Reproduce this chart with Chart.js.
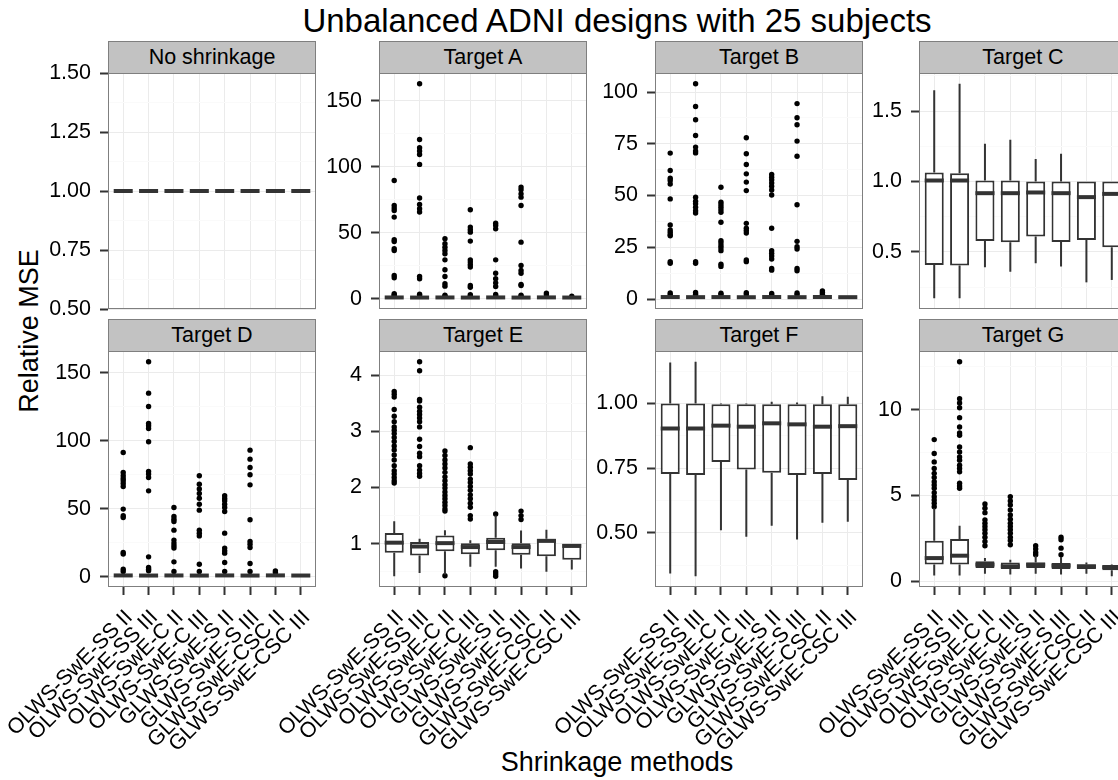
<!DOCTYPE html>
<html>
<head>
<meta charset="utf-8">
<script src="https://cdn.jsdelivr.net/npm/chart.js@4.4.1/dist/chart.umd.min.js"></script>
<style>
  html, body { margin: 0; padding: 0; background: #fff; }
  #fig { position: relative; width: 1118px; height: 780px; overflow: hidden;
         font-family: "Liberation Sans", Arial, sans-serif; color: #000; }
  #fig canvas { position: absolute; }
  .strip { position: absolute; box-sizing: border-box; height: 33px; border: 1px solid #7f7f7f;
           background: #c2c2c2; text-align: center; font-size: 21.5px; line-height: 31px; }
  .title { position: absolute; left: 117px; width: 1000px; top: 4px; text-align: center;
           font-size: 33px; line-height: 33px; }
  .xlab { position: absolute; left: 117px; width: 1000px; top: 749px; text-align: center;
          font-size: 27px; line-height: 27px; }
  .ylab { position: absolute; left: 29px; top: 331px; font-size: 27px; line-height: 27px;
          white-space: nowrap; transform: translate(-50%, -50%) rotate(-90deg); }
</style>
</head>
<body>
<div id="fig">
  <div class="title">Unbalanced ADNI designs with 25 subjects</div>
  <div class="ylab">Relative MSE</div>
  <div class="xlab">Shrinkage methods</div>
</div>
<script>
// -------------------
// Data
// -------------------
const methods = ['OLWS-SwE-SS II', 'OLWS-SwE-SS III', 'OLWS-SwE-C II', 'OLWS-SwE-C III',
                 'GLWS-SwE-S II', 'GLWS-SwE-S III', 'GLWS-SwE-CSC II', 'GLWS-SwE-CSC III'];
const panelNames = ['No shrinkage', 'Target A', 'Target B', 'Target C',
                    'Target D', 'Target E', 'Target F', 'Target G'];

// box stats per method: [lower whisker, Q1, median, Q3, upper whisker]
const boxNone = [[1,1,1,1,1],[1,1,1,1,1],[1,1,1,1,1],[1,1,1,1,1],[1,1,1,1,1],[1,1,1,1,1],[1,1,1,1,1],[1,1,1,1,1]];
const boxA = [[0.40,0.83,1.01,1.19,1.45],[0.45,0.80,0.95,1.04,1.12],[0.42,0.86,1.01,1.15,1.30],[0.55,0.81,0.94,1.02,1.10],
              [0.45,0.88,1.03,1.11,1.50],[0.55,0.80,0.94,1.02,1.25],[0.50,0.78,1.05,1.10,1.30],[0.52,0.72,0.96,1.00,1.02]];
const boxB = [[0.42,0.84,1.02,1.18,1.42],[0.46,0.79,0.96,1.05,1.10],[0.44,0.86,1.00,1.14,1.28],[0.56,0.80,0.93,1.01,1.08],
              [0.47,0.87,1.02,1.10,1.48],[0.56,0.81,0.95,1.01,1.22],[0.50,0.77,1.04,1.09,1.28],[0.53,0.71,0.95,1.00,1.01]];
const boxC = [[0.171,0.408,1.007,1.064,1.647],[0.171,0.403,1.007,1.059,1.694],[0.391,0.578,0.917,1.007,1.268],[0.360,0.569,0.917,1.007,1.296],
              [0.419,0.609,0.922,1.000,1.159],[0.396,0.571,0.917,1.000,1.197],[0.284,0.585,0.889,1.000,1.000],[0.301,0.533,0.912,1.000,1.000]];
const boxD = [[0.41,0.84,1.02,1.20,1.44],[0.45,0.80,0.95,1.04,1.11],[0.43,0.86,1.01,1.16,1.31],[0.56,0.81,0.94,1.02,1.09],
              [0.46,0.88,1.03,1.11,1.52],[0.55,0.80,0.94,1.02,1.24],[0.50,0.78,1.05,1.10,1.27],[0.53,0.72,0.96,1.00,1.02]];
const boxE = [[0.42,0.84,1.018,1.189,1.40],[0.48,0.79,0.95,1.03,1.09],[0.45,0.864,1.01,1.148,1.24],[0.59,0.81,0.94,1.01,1.06],
              [0.59,0.882,1.03,1.106,1.50],[0.557,0.805,0.94,1.01,1.236],[0.50,0.776,1.05,1.09,1.25],[0.54,0.716,0.96,1.00,1.00]];
const boxF = [[0.343,0.727,0.903,1.000,1.158],[0.332,0.723,0.903,1.000,1.161],[0.510,0.774,0.914,0.997,1.000],[0.485,0.745,0.910,0.997,1.000],
              [0.527,0.732,0.923,0.997,1.006],[0.474,0.723,0.919,0.997,1.003],[0.539,0.727,0.910,0.997,1.028],[0.543,0.704,0.912,0.997,1.026]];
const boxG = [[0.33,0.97,1.35,2.36,4.26],[0.33,0.97,1.49,2.46,3.23],[0.44,0.77,0.97,1.16,1.35],[0.39,0.72,0.87,1.10,1.26],
              [0.44,0.77,0.97,1.10,1.49],[0.39,0.72,0.91,1.06,1.41],[0.44,0.72,0.87,0.97,1.10],[0.29,0.64,0.83,0.91,0.97]];

// outlying values per method
const outNone = [[], [], [], [], [], [], [], []];
const outA = [
  [2.1, 2.9, 3.8, 15.9, 17.7, 36.6, 37.9, 43.4, 44.7, 61.9, 66.9, 68.7, 70.7, 89.6],
  [2.3, 3.4, 15.2, 16.9, 65.7, 68.2, 71.5, 76.3, 101.8, 109.3, 111.9, 114.4, 120.7, 162.9],
  [1.9, 2.7, 9.6, 11.4, 16.9, 22.0, 29.5, 34.1, 36.6, 39.1, 41.7, 45.5],
  [2.0, 3.1, 8.8, 10.1, 24.0, 25.8, 27.8, 29.5, 43.7, 50.5, 52.3, 54.3, 67.4],
  [2.2, 3.3, 9.3, 12.1, 15.2, 19.4, 29.5, 53.0, 55.6, 57.3],
  [2.0, 2.8, 10.1, 10.9, 19.4, 21.5, 25.3, 42.9, 70.7, 77.0, 79.5, 82.6, 84.6],
  [3.0, 4.3],
  [2.0]
];
const outB = [
  [2.2, 3.0, 17.3, 18.1, 30.6, 31.1, 32.3, 33.4, 35.8, 48.4, 55.6, 57.3, 58.4, 62.1, 70.5],
  [2.4, 3.2, 17.3, 18.1, 41.6, 42.7, 44.4, 46.0, 47.3, 49.2, 70.6, 71.5, 73.4, 79.0, 86.6, 93.0, 104.0],
  [2.1, 2.9, 15.8, 16.9, 23.4, 24.7, 25.8, 27.1, 28.2, 37.1, 41.9, 43.1, 44.4, 45.6, 46.8, 54.0],
  [2.3, 3.1, 18.1, 18.9, 31.9, 33.1, 34.2, 36.6, 52.4, 56.5, 60.5, 65.0, 70.2, 77.9],
  [2.0, 2.7, 14.0, 14.8, 19.4, 20.8, 22.1, 23.4, 34.2, 50.3, 52.7, 54.5, 56.1, 57.6, 58.9, 60.2],
  [2.2, 3.0, 13.7, 14.8, 24.2, 25.3, 27.9, 45.6, 69.0, 76.3, 84.2, 87.6, 94.4],
  [2.4, 3.2, 4.0],
  []
];
const outC = [[], [], [], [], [], [], [], []];
const outD = [
  [3.9, 5.6, 16.7, 17.9, 43.6, 44.9, 49.8, 66.4, 68.6, 70.6, 72.3, 74.3, 76.7, 91.4],
  [4.4, 5.6, 6.9, 14.7, 63.2, 73.0, 75.5, 77.5, 99.3, 109.0, 111.0, 112.7, 125.2, 135.0, 158.1],
  [3.9, 11.0, 21.1, 22.8, 24.8, 27.0, 34.3, 40.7, 42.4, 44.4, 51.0],
  [3.9, 9.3, 30.1, 32.1, 34.3, 49.0, 53.4, 57.8, 61.3, 64.5, 68.1, 74.3],
  [3.9, 10.5, 17.4, 19.1, 21.1, 32.1, 48.0, 51.0, 53.4, 55.9, 57.6, 59.6],
  [3.9, 9.8, 21.6, 24.0, 26.0, 41.9, 67.6, 75.0, 80.4, 86.5, 93.1],
  [3.2, 4.4],
  []
];
const outE = [
  [2.08, 2.12, 2.18, 2.24, 2.30, 2.39, 2.49, 2.58, 2.67, 2.74, 2.82, 2.89, 2.96, 3.02, 3.08, 3.17, 3.27, 3.39, 3.61, 3.66, 3.71],
  [2.20, 2.25, 2.31, 2.39, 2.55, 2.61, 2.73, 2.86, 3.08, 3.17, 3.24, 3.30, 3.36, 3.43, 3.54, 3.57, 4.08, 4.24],
  [0.43, 1.58, 1.62, 1.68, 1.74, 1.80, 1.86, 1.92, 1.99, 2.05, 2.12, 2.19, 2.27, 2.35, 2.42, 2.49, 2.57, 2.65],
  [1.44, 1.50, 1.65, 1.72, 1.80, 1.87, 1.95, 2.02, 2.09, 2.15, 2.24, 2.30, 2.36, 2.42, 2.71],
  [0.42, 0.46, 0.50, 1.53],
  [1.43, 1.50, 1.58],
  [],
  []
];
const outF = [[], [], [], [], [], [], [], []];
const outG = [
  [4.35, 4.55, 4.74, 4.93, 5.16, 5.42, 5.61, 5.80, 6.05, 6.29, 6.58, 6.96, 7.45, 8.26],
  [5.42, 5.55, 5.71, 6.38, 6.58, 6.77, 7.06, 7.25, 7.54, 7.83, 8.51, 8.65, 8.99, 9.54, 10.12, 10.39, 10.64, 12.8],
  [2.07, 2.32, 2.57, 2.80, 3.00, 3.19, 3.38, 3.58, 4.00, 4.26, 4.51],
  [2.13, 2.38, 2.57, 2.80, 3.00, 3.19, 3.38, 3.62, 3.87, 4.16, 4.45, 4.68, 4.93],
  [1.55, 1.68, 1.88, 2.07],
  [1.55, 1.93, 2.42, 2.57],
  [],
  []
];

// y axis breaks and their labels
const ticksNone = [0.5, 0.75, 1, 1.25, 1.5];  const tickLabelsNone = ['0.50', '0.75', '1.00', '1.25', '1.50'];
const ticksA = [0, 50, 100, 150];             const tickLabelsA = ['0', '50', '100', '150'];
const ticksB = [0, 25, 50, 75, 100];          const tickLabelsB = ['0', '25', '50', '75', '100'];
const ticksC = [0.5, 1.0, 1.5];               const tickLabelsC = ['0.5', '1.0', '1.5'];
const ticksD = [0, 50, 100, 150];             const tickLabelsD = ['0', '50', '100', '150'];
const ticksE = [1, 2, 3, 4];                  const tickLabelsE = ['1', '2', '3', '4'];
const ticksF = [0.5, 0.75, 1.0];              const tickLabelsF = ['0.50', '0.75', '1.00'];
const ticksG = [0, 5, 10];                    const tickLabelsG = ['0', '5', '10'];

const panels = [
  { box: boxNone, out: outNone, ticks: ticksNone, labels: tickLabelsNone },
  { box: boxA, out: outA, ticks: ticksA, labels: tickLabelsA },
  { box: boxB, out: outB, ticks: ticksB, labels: tickLabelsB },
  { box: boxC, out: outC, ticks: ticksC, labels: tickLabelsC },
  { box: boxD, out: outD, ticks: ticksD, labels: tickLabelsD },
  { box: boxE, out: outE, ticks: ticksE, labels: tickLabelsE },
  { box: boxF, out: outF, ticks: ticksF, labels: tickLabelsF },
  { box: boxG, out: outG, ticks: ticksG, labels: tickLabelsG }
];

// -------------------
// Layout
// -------------------
const colLeft = [108, 379, 655, 919];
const rowTop = [73, 351];
const plotW = 208, plotH = 236;
const PAD_L = 120, PAD_T = 14, PAD_R = 14;
const LINE = '#333333';
const FONT = '"Liberation Sans", Arial, sans-serif';

Chart.defaults.font.family = FONT;

// ggplot-style range: data span plus 5% on each side
function yRange(box, out) {
  const vals = box.flatMap(b => [b[0], b[4]]).concat(out.flat());
  const lo = Math.min(...vals), hi = Math.max(...vals);
  if (hi - lo < 1e-9) return [lo - 0.5, hi + 0.5];
  const pad = (hi - lo) * 0.05;
  return [lo - pad, hi + pad];
}

function minorTicks(major, lo, hi) {
  const step = major[1] - major[0];
  const res = [major[0] - step / 2];
  major.forEach(m => res.push(m + step / 2));
  return res.filter(v => v > lo && v < hi);
}

// whiskers, medians and the panel frame
const boxExtras = {
  id: 'boxExtras',
  afterDatasetsDraw(chart) {
    const { ctx, chartArea: a, scales: { x, y } } = chart;
    const ds = chart.data.datasets[0];
    const meta = chart.getDatasetMeta(0);
    ctx.save();
    ctx.strokeStyle = LINE;
    ctx.lineCap = 'butt';
    ds.stats.forEach((s, i) => {
      const px = x.getPixelForValue(i + 1);
      const half = meta.data[i].width / 2;
      ctx.lineWidth = 2;
      ctx.beginPath();
      ctx.moveTo(px, y.getPixelForValue(s[0]));
      ctx.lineTo(px, y.getPixelForValue(s[1]));
      ctx.moveTo(px, y.getPixelForValue(s[3]));
      ctx.lineTo(px, y.getPixelForValue(s[4]));
      ctx.stroke();
      const my = y.getPixelForValue(s[2]);
      ctx.lineWidth = 4;
      ctx.beginPath();
      ctx.moveTo(px - half, my);
      ctx.lineTo(px + half, my);
      ctx.stroke();
    });
    ctx.lineWidth = 1;
    ctx.strokeStyle = '#7f7f7f';
    ctx.strokeRect(a.left + 0.5, a.top + 0.5, a.width - 1, a.height - 1);
    ctx.restore();
  }
};

const fig = document.getElementById('fig');

panels.forEach((p, k) => {
  const row = Math.floor(k / 4), col = k % 4;
  const bottomRow = row === 1;
  const padB = bottomRow ? 175 : 16;
  const w = PAD_L + plotW + PAD_R, h = PAD_T + plotH + padB;

  const strip = document.createElement('div');
  strip.className = 'strip';
  strip.style.left = colLeft[col] + 'px';
  strip.style.top = (rowTop[row] - 32) + 'px';
  strip.style.width = plotW + 'px';
  strip.textContent = panelNames[k];
  fig.appendChild(strip);

  const canvas = document.createElement('canvas');
  canvas.width = w; canvas.height = h;
  canvas.style.left = (colLeft[col] - PAD_L) + 'px';
  canvas.style.top = (rowTop[row] - PAD_T) + 'px';
  canvas.style.width = w + 'px';
  canvas.style.height = h + 'px';
  fig.appendChild(canvas);

  const [lo, hi] = yRange(p.box, p.out);
  const yTicks = p.ticks.concat(minorTicks(p.ticks, lo, hi));
  const majorIndex = v => p.ticks.findIndex(t => Math.abs(t - v) < 1e-9);

  const points = [];
  p.out.forEach((vals, i) => vals.forEach(v => points.push({ x: i + 1, y: v })));

  new Chart(canvas, {
    type: 'bar',
    data: {
      datasets: [
        {
          type: 'bar',
          stats: p.box,
          data: p.box.map((b, i) => ({ x: i + 1, y: [b[1], b[3]] })),
          backgroundColor: '#ffffff',
          borderColor: LINE,
          borderWidth: 2,
          borderSkipped: false,
          barPercentage: 0.75,
          categoryPercentage: 1,
          order: 1
        },
        {
          type: 'scatter',
          data: points,
          pointRadius: 2.7,
          pointBackgroundColor: '#000000',
          pointBorderWidth: 0,
          order: 2
        }
      ]
    },
    options: {
      responsive: false,
      animation: false,
      devicePixelRatio: 1,
      events: [],
      layout: { padding: { top: PAD_T, right: PAD_R, bottom: bottomRow ? 0 : padB, left: 0 } },
      plugins: { legend: { display: false }, tooltip: { enabled: false } },
      scales: {
        x: {
          type: 'linear',
          min: 0.4,
          max: 8.6,
          offset: false,
          afterBuildTicks: s => { s.ticks = methods.map((m, i) => ({ value: i + 1 })); },
          afterFit: s => { s.height = bottomRow ? padB : 0; s.paddingLeft = 0; s.paddingRight = 0; },
          ticks: {
            display: bottomRow,
            autoSkip: false,
            minRotation: 45,
            maxRotation: 45,
            padding: 10,
            labelOffset: 6,
            color: '#000',
            font: { size: 21.5 },
            callback: v => methods[v - 1]
          },
          grid: { offset: false, color: '#ebebeb', lineWidth: 1, drawTicks: bottomRow,
                  tickLength: 8, tickWidth: 2, tickColor: LINE },
          border: { display: false }
        },
        y: {
          min: lo,
          max: hi,
          afterBuildTicks: s => { s.ticks = yTicks.map(v => ({ value: v })); },
          afterFit: s => { s.width = PAD_L; s.paddingTop = 0; s.paddingBottom = 0; },
          ticks: {
            autoSkip: false,
            padding: 9,
            color: '#000',
            font: { size: 21.5 },
            callback: v => { const i = majorIndex(v); return i < 0 ? '' : p.labels[i]; }
          },
          grid: {
            color: c => majorIndex(c.tick.value) < 0 ? '#fafafa' : '#ebebeb',
            lineWidth: 1,
            tickLength: 8,
            tickWidth: 2,
            tickColor: c => majorIndex(c.tick.value) < 0 ? 'rgba(0,0,0,0)' : LINE
          },
          border: { display: false }
        }
      }
    },
    plugins: [boxExtras]
  });
});
</script>
</body>
</html>
